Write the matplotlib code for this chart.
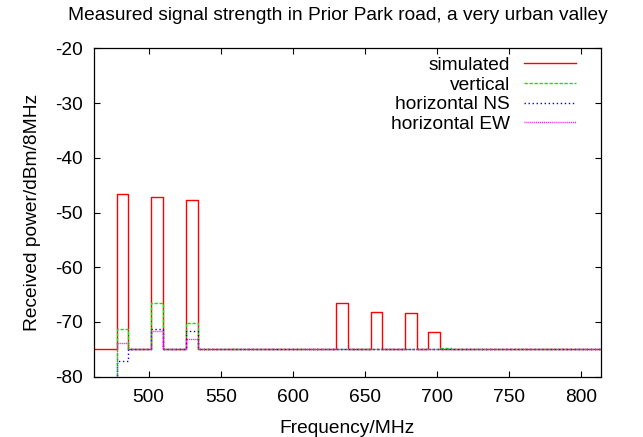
import matplotlib
matplotlib.use("Agg")
import matplotlib.pyplot as plt

plt.rcParams['font.family'] = ['Liberation Sans', 'DejaVu Sans']
plt.rcParams['axes.unicode_minus'] = False

# channel edges (MHz) and received power (dBm/8MHz), drawn as steps
sim_freq = [462, 478, 486, 502, 510, 526, 534, 630, 638, 654, 662, 678, 686, 694, 702, 814]
sim_power = [-75, -46.6, -75, -47.2, -75, -47.75, -75, -66.5, -75, -68.1, -75, -68.4, -75, -71.8, -75, -75]

meas_freq = [470, 478, 486, 502, 510, 526, 534, 702, 710, 814]
vertical = [-85, -71.3, -75, -66.6, -75, -70.1, -75, -74.7, -75, -75]
horiz_ns = [-85, -77.2, -75, -71.3, -75, -71.6, -75, -75, -75, -75]
horiz_ew = [-85, -73.9, -75, -71.7, -75, -73.2, -75, -75, -75, -75]

FS = 13.8

fig = plt.figure(figsize=(6.43, 4.37), dpi=100)
ax = fig.add_axes([93.8 / 643, 1 - 376.7 / 437, (601.3 - 93.8) / 643, (376.7 - 48.3) / 437])

ax.step(sim_freq, sim_power, where='post', color='#ff0000', lw=1.0, label='simulated')
ax.step(meas_freq, vertical, where='post', color='#00ee00', lw=1.0,
        dashes=(2.4, 1.2), label='vertical')
ax.step(meas_freq, horiz_ns, where='post', color='#0000ff', lw=1.0,
        dashes=(1.0, 1.9), label='horizontal NS')
ax.step(meas_freq, horiz_ew, where='post', color='#ff00ff', lw=1.0,
        dashes=(0.7, 0.7), label='horizontal EW')

ax.set_xlim(462, 814)
ax.set_ylim(-80, -20)
ax.set_xticks([500, 550, 600, 650, 700, 750, 800])
ax.set_yticks([-80, -70, -60, -50, -40, -30, -20])
ax.tick_params(direction='in', length=4.5, width=0.8, top=True, right=True,
               labelsize=FS, pad=8)
ax.tick_params(axis='x', pad=9)
for s in ax.spines.values():
    s.set_linewidth(0.9)

ax.set_xlabel('Frequency/MHz', fontsize=FS, labelpad=10)
ax.set_ylabel('Received power/dBm/8MHz', fontsize=FS, labelpad=10)
fig.text(338 / 643, 1 - 15 / 437, 'Measured signal strength in Prior Park road, a very urban valley',
         ha='center', va='center', fontsize=FS)

ax.legend(loc='upper right', bbox_to_anchor=((582 - 93.8) / 507.5, 1 - 2.5 / 328.4), frameon=False,
          markerfirst=False, fontsize=FS, handlelength=2.75, handletextpad=0.7,
          labelspacing=0.12, borderaxespad=0.0, borderpad=0.3)

fig.savefig('out.png', dpi=100)
